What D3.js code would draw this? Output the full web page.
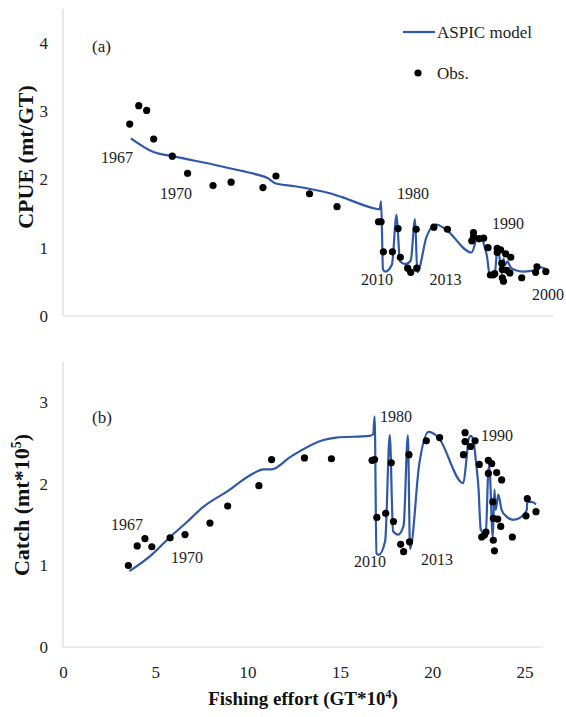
<!DOCTYPE html>
<html>
<head>
<meta charset="utf-8">
<script src="https://cdn.jsdelivr.net/npm/d3@7"></script>
<style>
  html, body { margin: 0; padding: 0; background: #fff; }
  svg { display: block; }
</style>
</head>
<body>
<svg id="chart" width="566" height="717"></svg>
<script>
// Observed fishing effort (GT*10^4), CPUE (mt/GT) and catch (mt*10^5)
const obsEffort = [3.54, 4.02, 4.44, 4.81, 5.80, 6.61, 7.96, 8.92, 10.61, 11.30,
  13.08, 14.54, 16.74, 16.88, 17.00, 17.48, 17.78, 17.90, 18.29, 18.45,
  18.74, 18.77, 19.68, 20.40, 21.69, 21.78, 21.78, 22.08, 22.32, 22.55,
  22.68, 22.82, 22.91, 23.04, 23.04, 23.22, 23.28, 23.31, 23.31, 23.37,
  23.49, 23.55, 23.71, 23.76, 24.34, 25.08, 25.15, 25.62];
const obsCpue = [2.81, 3.08, 3.01, 2.59, 2.34, 2.09, 1.91, 1.96, 1.88, 2.05,
  1.79, 1.60, 1.38, 1.38, 0.94, 0.94, 1.28, 0.86, 0.70, 0.64,
  1.27, 0.70, 1.30, 1.27, 1.10, 1.22, 1.16, 1.13, 1.14, 1.00,
  0.60, 0.60, 0.62, 0.99, 0.93, 0.97, 0.77, 0.68, 0.56, 0.51,
  0.91, 0.67, 0.63, 0.86, 0.56, 0.64, 0.72, 0.65];
const obsCatch = [1.00, 1.24, 1.33, 1.23, 1.34, 1.38, 1.52, 1.73, 1.98, 2.30,
  2.32, 2.31, 2.29, 2.30, 1.59, 1.64, 2.26, 1.54, 1.26, 1.17,
  2.36, 1.29, 2.53, 2.57, 2.36, 2.63, 2.52, 2.46, 2.53, 2.24,
  1.35, 1.37, 1.41, 2.29, 2.13, 2.25, 1.78, 1.58, 1.31, 1.18,
  2.14, 1.57, 1.48, 2.05, 1.35, 1.61, 1.82, 1.66];

// ASPIC model fit, ordered by effort
const modelEffort = [3.60, 4.80, 5.80, 6.70, 7.60, 8.90, 10.30, 10.85, 11.30, 12.30,
  14.10, 14.80, 16.60, 16.80, 16.88, 16.98, 17.10, 17.45, 17.70, 17.88,
  18.15, 18.45, 18.68, 18.80, 19.30, 19.80, 20.30, 21.68, 21.87, 21.96,
  22.08, 22.23, 22.37, 22.50, 22.63, 22.73, 22.91, 23.04, 23.09, 23.28,
  23.37, 23.44, 23.58, 23.76, 24.03, 24.39, 24.85, 25.12, 25.15, 25.39, 25.62];
const modelCpue = [2.60, 2.40, 2.34, 2.29, 2.24, 2.16, 2.07, 2.02, 1.94, 1.90,
  1.80, 1.74, 1.57, 1.56, 1.68, 0.68, 0.65, 0.75, 1.48, 0.80,
  0.76, 0.81, 1.42, 0.64, 1.17, 1.34, 1.27, 0.93, 1.07, 1.17,
  1.17, 1.14, 1.01, 0.87, 0.62, 0.61, 0.62, 0.96, 0.97, 0.62,
  0.84, 0.74, 0.80, 0.71, 0.67, 0.65, 0.66, 0.68, 0.72, 0.71, 0.69];
const modelCatch = [0.93, 1.13, 1.35, 1.53, 1.72, 1.91, 2.13, 2.18, 2.18, 2.33,
  2.54, 2.57, 2.59, 2.61, 2.83, 1.15, 1.13, 1.30, 2.60, 1.42,
  1.38, 1.49, 2.60, 1.20, 2.25, 2.64, 2.58, 2.01, 2.34, 2.54,
  2.59, 2.54, 2.27, 1.97, 1.44, 1.41, 1.44, 2.17, 2.21, 1.35,
  1.93, 1.68, 1.87, 1.68, 1.60, 1.56, 1.60, 1.68, 1.78, 1.78, 1.75];

// Year annotations placed in data units
const yearLabelsA = ["1967", "1970", "1980", "1990", "2000", "2010", "2013"];
const yearEffortA = [2.86, 5.99, 18.57, 23.61, 25.73, 16.66, 20.29];
const yearCpueA   = [2.24, 1.71, 1.71, 1.27, 0.23, 0.45, 0.45];
const yearLabelsB = ["1967", "1970", "1980", "1990", "2010", "2013"];
const yearEffortB = [3.47, 6.72, 18.04, 23.51, 16.63, 20.26];
const yearCatchB  = [1.44, 1.03, 2.76, 2.53, 0.98, 1.01];

const cpueTicks = [0, 1, 2, 3, 4];
const catchTicks = [0, 1, 2, 3];
const effortTicks = [0, 5, 10, 15, 20, 25];

const FONT = "'Liberation Serif', 'Times New Roman', serif";
const BLUE = "#2f58a8";
const AXIS = "#d9d9d9";

const svg = d3.select("#chart").style("font-family", FONT);

function panel(cfg) {
  const g = svg.append("g");
  const x = d3.scaleLinear().domain([0, 26]).range(cfg.xRange);
  const y = d3.scaleLinear().domain(cfg.yDomain).range(cfg.yRange);

  // axis lines (no tick marks, no gridlines)
  g.append("line").attr("x1", x(0)).attr("x2", x(0))
    .attr("y1", y(cfg.yDomain[1])).attr("y2", y(0))
    .attr("stroke", AXIS).attr("stroke-width", 1.2);
  g.append("line").attr("x1", x(0)).attr("x2", x(26))
    .attr("y1", y(0)).attr("y2", y(0))
    .attr("stroke", AXIS).attr("stroke-width", 1.2);

  const yAxis = d3.axisLeft(y).tickValues(cfg.yTicks).tickSize(0).tickPadding(15)
    .tickFormat(d3.format("d"));
  const ya = g.append("g").attr("transform", `translate(${x(0)},0)`).call(yAxis);
  ya.select(".domain").remove();
  ya.selectAll("text").attr("font-family", FONT).attr("font-size", 17).attr("fill", "#222");

  if (cfg.xTicks) {
    const xAxis = d3.axisBottom(x).tickValues(cfg.xTicks).tickSize(0).tickPadding(19)
      .tickFormat(d3.format("d"));
    const xa = g.append("g").attr("transform", `translate(0,${y(0)})`).call(xAxis);
    xa.select(".domain").remove();
    xa.selectAll("text").attr("font-family", FONT).attr("font-size", 17).attr("fill", "#222");
  }

  // model line
  const line = d3.line().x(d => x(d[0])).y(d => y(d[1])).curve(d3.curveMonotoneX);
  g.append("path")
    .datum(modelEffort.map((e, i) => [e, cfg.model[i]]))
    .attr("d", line).attr("fill", "none")
    .attr("stroke", BLUE).attr("stroke-width", 2.2).attr("stroke-linejoin", "round");

  // observations
  g.selectAll("circle.obs").data(obsEffort.map((e, i) => [e, cfg.obs[i]]))
    .join("circle").attr("class", "obs")
    .attr("cx", d => x(d[0])).attr("cy", d => y(d[1])).attr("r", 3.6).attr("fill", "#000");

  // year annotations
  g.selectAll("text.yr").data(cfg.labels.map((t, i) => [t, cfg.labelX[i], cfg.labelY[i]]))
    .join("text").attr("class", "yr")
    .attr("x", d => x(d[1])).attr("y", d => y(d[2]))
    .attr("text-anchor", "middle").attr("font-size", 16).attr("fill", "#222")
    .text(d => d[0]);

  // panel tag
  g.append("text").attr("x", cfg.tag[1]).attr("y", cfg.tag[2])
    .attr("font-size", 17).attr("fill", "#222").text(cfg.tag[0]);

  return { g, x, y };
}

const A = panel({
  xRange: [63, 553], yDomain: [0, 4.5], yRange: [316, 316 - 4.5 * 68.3],
  yTicks: cpueTicks, xTicks: null,
  model: modelCpue, obs: obsCpue,
  labels: yearLabelsA, labelX: yearEffortA, labelY: yearCpueA,
  tag: ["(a)", 92, 52]
});

const B = panel({
  xRange: [63, 543], yDomain: [0, 3.5], yRange: [647, 647 - 3.5 * 81.5],
  yTicks: catchTicks, xTicks: effortTicks,
  model: modelCatch, obs: obsCatch,
  labels: yearLabelsB, labelX: yearEffortB, labelY: yearCatchB,
  tag: ["(b)", 92, 423]
});

// legend
svg.append("line").attr("x1", 403).attr("x2", 435).attr("y1", 32).attr("y2", 32)
  .attr("stroke", BLUE).attr("stroke-width", 2.2);
svg.append("text").attr("x", 437).attr("y", 38).attr("font-size", 17).attr("fill", "#222")
  .text("ASPIC model");
svg.append("circle").attr("cx", 418).attr("cy", 73).attr("r", 3.6).attr("fill", "#000");
svg.append("text").attr("x", 437).attr("y", 79).attr("font-size", 17).attr("fill", "#222")
  .text("Obs.");

// axis titles
svg.append("text")
  .attr("transform", "translate(33,157) rotate(-90)")
  .attr("text-anchor", "middle").attr("font-size", 22).attr("font-weight", "bold")
  .attr("fill", "#111").text("CPUE (mt/GT)");

const catchTitle = svg.append("text")
  .attr("transform", "translate(29,505) rotate(-90)")
  .attr("text-anchor", "middle").attr("font-size", 22).attr("font-weight", "bold")
  .attr("fill", "#111");
catchTitle.append("tspan").text("Catch (mt*10");
catchTitle.append("tspan").attr("dy", -8).attr("font-size", 14).text("5");
catchTitle.append("tspan").attr("dy", 8).text(")");

const xTitle = svg.append("text")
  .attr("x", 303).attr("y", 705)
  .attr("text-anchor", "middle").attr("font-size", 19).attr("font-weight", "bold")
  .attr("fill", "#111");
xTitle.append("tspan").text("Fishing effort (GT*10");
xTitle.append("tspan").attr("dy", -7).attr("font-size", 12).text("4");
xTitle.append("tspan").attr("dy", 7).text(")");
</script>
</body>
</html>
